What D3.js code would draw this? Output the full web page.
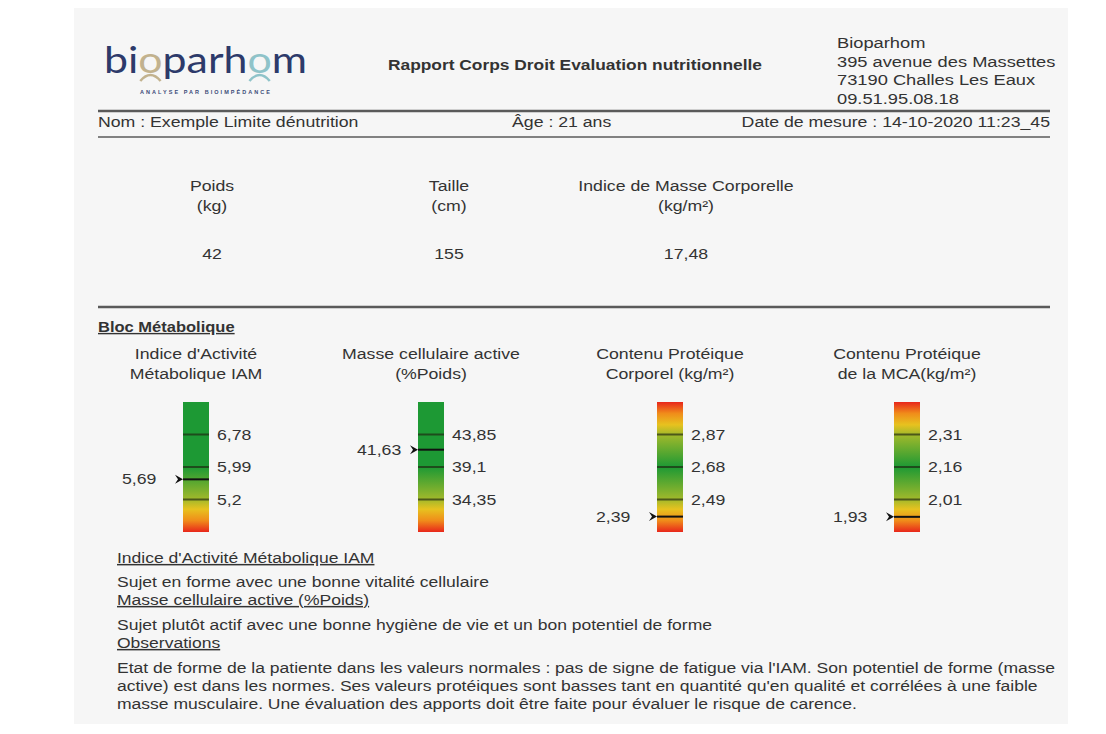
<!DOCTYPE html>
<html>
<head>
<meta charset="utf-8">
<script src="https://cdn.jsdelivr.net/npm/d3@7"></script>
<style>
  body { margin: 0; background: #fff; }
  text { font-family: "Liberation Sans", Arial, sans-serif; fill: #333; }
</style>
</head>
<body>
<div id="rapport"></div>
<script>
// données du rapport
const adresse = ["Bioparhom", "395 avenue des Massettes", "73190 Challes Les Eaux", "09.51.95.08.18"];
const mesuresLabels = [["Poids", "(kg)"], ["Taille", "(cm)"], ["Indice de Masse Corporelle", "(kg/m²)"]];
const mesuresValeurs = ["42", "155", "17,48"];

const gaugeTitles = [
  ["Indice d'Activité", "Métabolique IAM"],
  ["Masse cellulaire active", "(%Poids)"],
  ["Contenu Protéique", "Corporel (kg/m²)"],
  ["Contenu Protéique", "de la MCA(kg/m²)"]
];
const gaugeTicks = [[5.2, 5.99, 6.78], [34.35, 39.1, 43.85], [2.49, 2.68, 2.87], [2.01, 2.16, 2.31]];
const gaugeValues = [5.69, 41.63, 2.39, 1.93];
const gaugeKinds = ["bas", "bas", "centre", "centre"];

const commentaires = [
  {t: "Indice d'Activité Métabolique IAM", u: true},
  {t: "Sujet en forme avec une bonne vitalité cellulaire", u: false},
  {t: "Masse cellulaire active (%Poids)", u: true},
  {t: "Sujet plutôt actif avec une bonne hygiène de vie et un bon potentiel de forme", u: false},
  {t: "Observations", u: true},
  {t: "Etat de forme de la patiente dans les valeurs normales : pas de signe de fatigue via l'IAM. Son potentiel de forme (masse", u: false},
  {t: "active) est dans les normes. Ses valeurs protéiques sont basses tant en quantité qu'en qualité et corrélées à une faible", u: false},
  {t: "masse musculaire. Une évaluation des apports doit être faite pour évaluer le risque de carence.", u: false}
];

const width = 1106, height = 734;
const SX = 1.18; // le scan est un peu étiré en largeur
const fmt = v => String(v).replace(".", ",");

const svg = d3.select("#rapport").append("svg")
  .attr("width", width).attr("height", height);

svg.append("rect").attr("width", width).attr("height", height).attr("fill", "#fff");
svg.append("rect").attr("x", 74).attr("y", 8).attr("width", 994).attr("height", 716).attr("fill", "#f6f6f6");

// texte étiré
function txt(parent, x, y, s, size = 15, anchor = "start") {
  return parent.append("text")
    .attr("transform", `translate(${x},${y}) scale(${SX},1)`)
    .attr("font-size", size).attr("text-anchor", anchor).text(s);
}

// logo
const logo = svg.append("text").attr("x", 104).attr("y", 73)
  .style("font-family", "Lato, sans-serif").style("font-weight", 400)
  .attr("font-size", 36).attr("textLength", 203).attr("lengthAdjust", "spacingAndGlyphs");
[["bi", "#2d3a6a"], ["o", "#c2b28e"], ["parh", "#2d3a6a"], ["o", "#8fc3c9"], ["m", "#2d3a6a"]].forEach(([s, c]) => {
  logo.append("tspan").text(s).style("fill", c);
});
[[2, "#c2b28e"], [7, "#8fc3c9"]].forEach(([i, c]) => {
  const b = logo.node().getExtentOfChar(i);
  const x0 = b.x + 2, x1 = b.x + b.width - 2, yb = 73;
  svg.append("path")
    .attr("d", `M${x0},${yb + 8} Q${(x0 + x1) / 2},${yb - 4} ${x1},${yb + 8}`)
    .attr("fill", "none").attr("stroke", c).attr("stroke-width", 2.5);
});
svg.append("text").attr("x", 140).attr("y", 94).attr("font-size", 5.5).attr("font-weight", "bold")
  .attr("textLength", 130).attr("lengthAdjust", "spacing").style("fill", "#3b4a78")
  .text("ANALYSE PAR BIOIMPÉDANCE");

// titre
svg.append("text").attr("x", 388).attr("y", 70).attr("font-size", 14).attr("font-weight", "bold")
  .attr("textLength", 374).attr("lengthAdjust", "spacingAndGlyphs")
  .text("Rapport Corps Droit Evaluation nutritionnelle");

adresse.forEach((d, i) => txt(svg, 837, 48 + i * 18.5, d, 15.5));

// lignes
const rule = (y, w) => svg.append("line").attr("x1", 98).attr("x2", 1050).attr("y1", y).attr("y2", y)
  .attr("stroke", "#5a5a5a").attr("stroke-width", w);
rule(111, 2.5);
rule(137, 1.5);
rule(307, 2.5);

txt(svg, 98, 127, "Nom :  Exemple Limite dénutrition");
txt(svg, 512, 127, "Âge :  21 ans");
txt(svg, 1050, 127, "Date de mesure :  14-10-2020 11:23_45", 15, "end");

// mesures
const xMes = d3.scalePoint().domain(d3.range(mesuresLabels.length)).range([212, 686]);
mesuresLabels.forEach((lab, i) => {
  lab.forEach((l, j) => txt(svg, xMes(i), 191 + j * 20, l, 15, "middle"));
  txt(svg, xMes(i), 259, mesuresValeurs[i], 15, "middle");
});

// bloc métabolique
txt(svg, 98, 332, "Bloc Métabolique", 14).attr("font-weight", "bold").attr("text-decoration", "underline");

const barX = [183, 418, 657, 894];
const barW = 26, barTop = 402, barBottom = 532;
const cRed = "#e8261b", cOrange = "#f08c1a", cYellow = "#e7c21f", cOlive = "#a2b92b", cGreen = "#1d9934";
const defs = svg.append("defs");

gaugeTicks.forEach((ticks, gi) => {
  const step = (ticks[2] - ticks[0]) / 2;
  const y = d3.scaleLinear().domain([ticks[0] - step, ticks[2] + step]).range([barBottom, barTop]);
  const cx = barX[gi] + barW / 2;
  const g = svg.append("g");

  // titre de la jauge
  gaugeTitles[gi].forEach((t, i) => txt(g, cx, 359 + i * 20, t, 15, "middle"));

  // dégradé
  const lo = ticks[0], mid = ticks[1], hi = ticks[2];
  let stops;
  if (gaugeKinds[gi] === "bas") {
    stops = [[lo - step, cRed], [lo - 0.65 * step, cOrange], [lo - 0.3 * step, cYellow], [lo, cOlive], [mid, cGreen], [hi + step, cGreen]];
  } else {
    stops = [[lo - step, cRed], [lo - 0.65 * step, cOrange], [lo - 0.3 * step, cYellow], [lo, cOlive], [mid, cGreen],
      [hi, cOlive], [hi + 0.3 * step, cYellow], [hi + 0.65 * step, cOrange], [hi + step, cRed]];
  }
  stops = stops.map(d => [(y(d[0]) - barTop) / (barBottom - barTop), d[1]]).sort((a, b) => a[0] - b[0]);
  const grad = defs.append("linearGradient").attr("id", "grad" + gi)
    .attr("gradientUnits", "userSpaceOnUse").attr("x1", 0).attr("x2", 0).attr("y1", barTop).attr("y2", barBottom);
  grad.selectAll("stop").data(stops).join("stop")
    .attr("offset", d => d[0])
    .attr("stop-color", d => d[1]);

  g.append("rect").attr("x", barX[gi]).attr("y", y(hi + step)).attr("width", barW)
    .attr("height", y(lo - step) - y(hi + step)).attr("fill", `url(#grad${gi})`);

  // graduations
  g.selectAll("line.tick").data(ticks).join("line").attr("class", "tick")
    .attr("x1", barX[gi]).attr("x2", barX[gi] + barW)
    .attr("y1", d => y(d)).attr("y2", d => y(d))
    .attr("stroke", "#1e2410").attr("stroke-opacity", 0.65).attr("stroke-width", 2);
  ticks.forEach(d => txt(g, barX[gi] + barW + 8, y(d) + 5, fmt(d)));

  // valeur mesurée
  const v = gaugeValues[gi];
  g.append("line").attr("x1", barX[gi]).attr("x2", barX[gi] + barW)
    .attr("y1", y(v)).attr("y2", y(v)).attr("stroke", "#111").attr("stroke-width", 2);
  g.append("path")
    .attr("d", `M${barX[gi] - 8},${y(v) - 4.5} L${barX[gi]},${y(v)} L${barX[gi] - 8},${y(v) + 4.5} L${barX[gi] - 5},${y(v)} Z`)
    .attr("fill", "#111");
  txt(g, barX[gi] - 61, y(v) + 5, fmt(v));
});

// commentaires
const yCom = [563, 587, 605, 630, 648, 673, 691, 709];
commentaires.forEach((d, i) => {
  txt(svg, 117, yCom[i], d.t, 14.85).attr("text-decoration", d.u ? "underline" : null);
});
</script>
</body>
</html>
